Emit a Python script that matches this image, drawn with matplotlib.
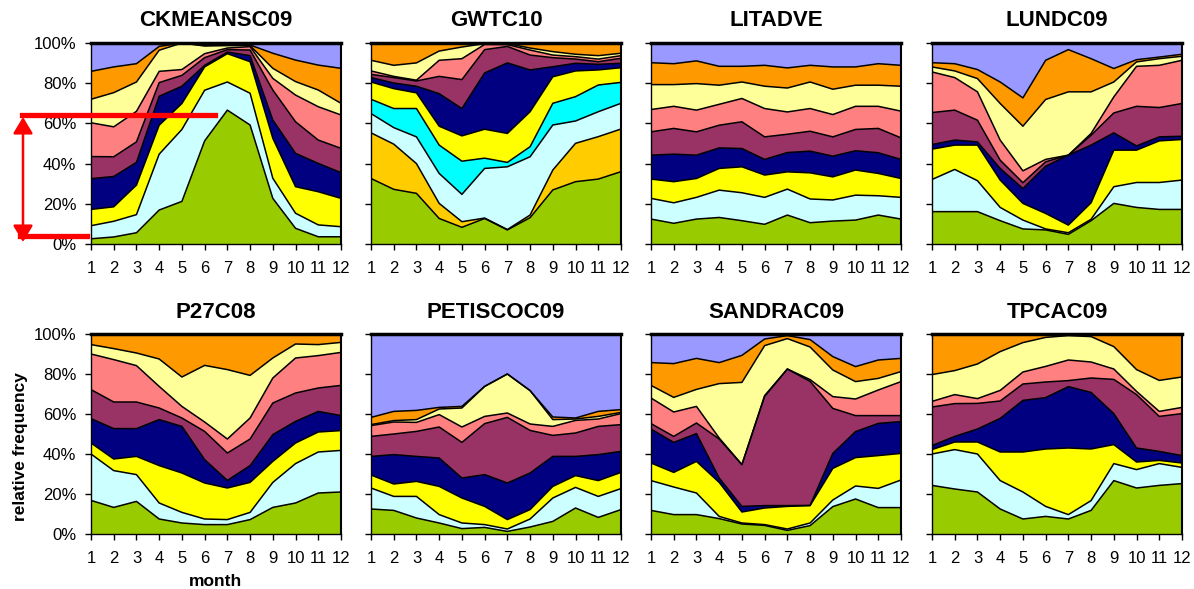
import numpy as np
import matplotlib
matplotlib.use("Agg")
import matplotlib.pyplot as plt
from matplotlib.lines import Line2D
from matplotlib.patches import FancyArrowPatch

plt.rcParams['font.family'] = ['Liberation Sans', 'DejaVu Sans']

W, H = 1194, 589
months = np.arange(1, 13)

# class colours, bottom of the stack to top
colours = {
    'green': '#99CC00', 'gold': '#FFCC00', 'lcyan': '#CCFFFF', 'cyan': '#00FFFF',
    'yellow': '#FFFF00', 'navy': '#000080', 'plum': '#993366', 'salmon': '#FF8080',
    'lyellow': '#FFFF99', 'orange': '#FF9900', 'lavender': '#9999FF',
}
std_classes = ['green', 'lcyan', 'yellow', 'navy', 'plum', 'salmon', 'lyellow', 'orange', 'lavender']

# cumulative relative frequency (%) at the top of each class, per month
ckmeansc09 = [
    [2.6, 3.5, 5.6, 16.9, 21.2, 51.3, 66.6, 59.2, 22.7, 7.8, 3.6, 3.6],
    [9.1, 11.3, 14.6, 44.7, 57.0, 76.5, 80.6, 75.0, 32.7, 15.3, 9.5, 8.6],
    [17.2, 18.5, 29.3, 59.1, 69.9, 88.1, 94.7, 90.7, 52.6, 28.5, 26.0, 22.7],
    [32.5, 33.6, 40.6, 73.5, 78.5, 88.9, 95.5, 93.7, 61.7, 45.1, 40.1, 35.5],
    [43.5, 43.4, 50.8, 80.3, 83.9, 92.7, 96.7, 96.5, 76.6, 60.8, 51.7, 47.6],
    [60.3, 58.3, 66.0, 85.9, 86.8, 94.7, 97.5, 98.2, 82.4, 74.1, 68.3, 64.2],
    [72.0, 75.3, 80.6, 96.4, 100.0, 98.5, 98.7, 98.7, 87.4, 80.8, 76.6, 70.0],
    [85.9, 88.1, 89.7, 98.3, 100.0, 98.8, 99.2, 99.0, 94.9, 91.5, 89.0, 87.4],
]
gwtc10 = [
    [32.6, 27.2, 25.2, 12.7, 8.3, 12.7, 7.0, 13.1, 26.9, 31.0, 32.3, 36.0],
    [55.3, 49.7, 40.0, 20.2, 11.1, 12.9, 7.2, 14.4, 36.8, 50.1, 53.4, 57.2],
    [64.9, 57.9, 53.3, 35.1, 24.7, 37.6, 38.4, 43.4, 59.2, 61.2, 65.8, 70.0],
    [72.0, 67.4, 67.4, 49.2, 41.2, 42.7, 40.6, 48.4, 70.0, 73.3, 79.1, 80.4],
    [80.6, 77.3, 75.2, 58.6, 53.8, 57.1, 55.0, 65.8, 83.2, 86.1, 86.6, 87.7],
    [82.8, 80.1, 78.5, 74.8, 67.4, 85.1, 90.1, 86.6, 88.2, 89.9, 89.4, 89.9],
    [84.4, 82.8, 81.1, 83.4, 81.8, 96.7, 98.3, 94.0, 92.7, 92.0, 90.7, 92.4],
    [86.1, 83.4, 81.5, 91.4, 92.2, 99.3, 99.2, 96.5, 94.0, 93.2, 92.0, 93.7],
    [91.4, 88.9, 90.1, 96.0, 98.0, 99.7, 99.7, 97.5, 95.7, 94.4, 93.7, 94.9],
]
litadve = [
    [12.4, 10.3, 12.4, 13.2, 11.6, 9.8, 14.4, 10.6, 11.4, 11.9, 14.4, 12.4],
    [22.7, 20.5, 23.2, 26.8, 25.5, 23.2, 27.3, 22.4, 21.9, 24.3, 24.0, 23.2],
    [32.3, 31.0, 32.6, 37.6, 38.4, 34.3, 35.9, 35.4, 33.4, 36.8, 35.1, 32.6],
    [44.2, 44.7, 44.2, 47.8, 47.5, 42.1, 45.5, 46.2, 43.7, 46.4, 45.4, 42.1],
    [55.8, 57.5, 55.8, 59.1, 60.8, 53.3, 54.6, 56.1, 53.3, 57.0, 57.5, 52.8],
    [66.9, 68.5, 66.6, 69.5, 72.4, 67.4, 65.7, 67.4, 64.4, 68.5, 68.5, 66.1],
    [79.3, 79.3, 79.8, 79.0, 80.6, 78.5, 77.6, 80.6, 77.0, 79.0, 79.0, 78.5],
    [90.2, 89.7, 91.1, 88.4, 88.4, 88.9, 87.6, 88.9, 88.1, 88.1, 89.7, 88.9],
]
lundc09 = [
    [16.1, 16.1, 16.1, 11.6, 7.5, 7.0, 4.8, 11.6, 20.2, 18.2, 17.2, 17.2],
    [32.1, 37.1, 31.5, 18.2, 11.9, 7.5, 5.6, 12.3, 28.5, 30.6, 30.6, 31.8],
    [47.2, 49.2, 49.2, 31.8, 20.2, 15.2, 9.4, 20.5, 46.7, 46.7, 51.3, 52.0],
    [49.5, 51.7, 50.8, 37.6, 27.6, 38.7, 44.2, 49.2, 55.3, 48.8, 53.3, 53.6],
    [65.4, 66.6, 61.6, 41.7, 30.5, 40.9, 44.2, 54.1, 65.2, 68.5, 67.9, 69.9],
    [85.6, 82.8, 75.7, 51.7, 36.4, 42.1, 44.2, 55.0, 73.2, 88.4, 88.9, 91.4],
    [88.1, 86.1, 82.3, 69.9, 58.6, 71.9, 75.7, 75.7, 80.6, 90.6, 92.2, 93.4],
    [90.2, 89.7, 86.8, 80.6, 72.7, 91.4, 96.7, 92.2, 87.3, 91.7, 93.0, 94.4],
]
p27c08 = [
    [16.8, 13.3, 16.3, 7.5, 5.5, 4.7, 4.7, 7.2, 13.3, 15.5, 20.5, 21.0],
    [40.0, 31.7, 29.7, 15.5, 10.8, 7.5, 7.2, 10.8, 25.8, 35.2, 41.0, 41.8],
    [45.5, 37.5, 38.8, 34.2, 30.5, 25.5, 23.0, 25.8, 36.3, 45.5, 51.0, 51.7],
    [57.7, 52.7, 52.7, 57.2, 53.8, 37.2, 26.8, 34.2, 49.7, 56.3, 61.3, 59.2],
    [72.2, 66.0, 66.0, 63.0, 58.0, 51.3, 40.5, 47.5, 65.5, 70.5, 73.0, 74.3],
    [90.0, 87.2, 84.2, 73.8, 63.8, 56.0, 47.5, 58.0, 78.0, 88.0, 89.2, 90.8],
    [94.7, 92.7, 90.5, 87.5, 78.5, 84.3, 82.2, 79.3, 88.0, 95.0, 94.7, 95.8],
]
petiscoc09 = [
    [12.5, 11.8, 8.0, 5.5, 2.7, 3.3, 1.3, 3.5, 6.3, 13.0, 8.3, 12.2],
    [23.0, 18.8, 18.8, 9.7, 5.5, 4.7, 2.5, 7.5, 18.0, 23.3, 18.8, 22.7],
    [29.5, 25.0, 26.3, 23.8, 18.0, 13.8, 7.2, 12.2, 23.8, 29.2, 26.7, 30.8],
    [38.8, 39.7, 38.8, 38.0, 28.0, 29.7, 25.5, 30.5, 38.8, 38.8, 39.7, 41.3],
    [48.8, 50.0, 51.3, 53.5, 45.8, 55.2, 58.3, 51.8, 49.3, 50.5, 53.8, 54.7],
    [54.2, 56.0, 55.8, 59.7, 53.5, 58.8, 60.5, 55.0, 53.8, 56.8, 57.5, 60.2],
    [54.7, 56.7, 57.2, 62.5, 63.0, 73.8, 80.0, 71.7, 57.2, 57.5, 58.8, 60.8],
    [58.3, 61.3, 61.8, 63.3, 63.8, 73.8, 80.0, 71.7, 58.5, 58.0, 61.3, 62.2],
]
sandrac09 = [
    [11.8, 9.7, 9.7, 7.7, 5.0, 4.3, 1.8, 4.2, 13.7, 17.5, 13.2, 13.2],
    [26.7, 23.5, 20.5, 8.8, 5.5, 4.7, 2.5, 5.5, 17.0, 24.0, 22.8, 27.0],
    [35.5, 30.8, 36.3, 25.8, 11.0, 13.0, 13.8, 14.2, 32.8, 38.2, 39.2, 40.3],
    [52.5, 45.8, 50.2, 28.0, 13.8, 14.2, 14.2, 14.3, 40.3, 51.2, 55.3, 56.2],
    [55.2, 48.8, 55.5, 47.5, 34.7, 68.8, 82.5, 76.3, 62.8, 59.2, 59.2, 59.2],
    [68.0, 61.0, 63.8, 48.0, 34.7, 69.2, 82.5, 77.2, 68.7, 67.5, 72.0, 76.2],
    [74.3, 68.3, 72.3, 75.2, 75.8, 94.2, 97.7, 93.5, 82.0, 76.2, 77.8, 81.2],
    [85.7, 85.2, 87.8, 85.7, 89.3, 97.5, 99.2, 97.2, 88.7, 83.7, 87.0, 87.8],
]
tpcac09 = [
    [24.3, 22.5, 21.0, 12.5, 7.5, 8.8, 7.5, 11.8, 26.7, 23.0, 24.3, 25.2],
    [40.0, 42.2, 40.0, 26.7, 21.0, 13.8, 9.7, 16.7, 35.2, 32.2, 35.2, 33.3],
    [42.2, 46.0, 46.0, 41.0, 41.0, 42.5, 43.0, 42.5, 44.7, 36.0, 36.8, 35.5],
    [44.2, 48.8, 52.5, 57.8, 66.8, 68.2, 73.7, 70.8, 60.2, 43.0, 41.3, 39.2],
    [63.5, 65.2, 65.3, 66.5, 75.0, 76.0, 76.7, 78.0, 77.3, 69.7, 58.8, 60.2],
    [66.3, 69.7, 67.7, 71.8, 81.0, 83.8, 87.0, 86.0, 82.5, 71.3, 61.3, 63.3],
    [79.7, 81.7, 85.0, 91.2, 95.7, 98.3, 99.2, 98.7, 93.7, 82.2, 76.8, 78.5],
]

panels = [
    ('CKMEANSC09', ckmeansc09, std_classes),
    ('GWTC10', gwtc10, ['green', 'gold', 'lcyan', 'cyan', 'yellow', 'navy', 'plum',
                        'salmon', 'lyellow', 'orange']),
    ('LITADVE', litadve, std_classes),
    ('LUNDC09', lundc09, std_classes),
    ('P27C08', p27c08, std_classes[:-1]),
    ('PETISCOC09', petiscoc09, std_classes),
    ('SANDRAC09', sandrac09, std_classes),
    ('TPCAC09', tpcac09, std_classes[:-1]),
]

fig = plt.figure(figsize=(W / 100, H / 100), dpi=100)

lefts = [91, 371, 651, 932]
rows = [(43, 244), (334, 534)]

for i, (name, tops, classes) in enumerate(panels):
    r, c = divmod(i, 4)
    top_px, bot_px = rows[r]
    x0 = lefts[c]
    ax = fig.add_axes([x0 / W, 1 - bot_px / H, 250 / W, (bot_px - top_px) / H])

    bounds = [np.zeros(12)] + [np.array(t) for t in tops] + [np.full(12, 100.0)]
    for k, cls in enumerate(classes):
        ax.fill_between(months, bounds[k], bounds[k + 1], facecolor=colours[cls],
                        edgecolor='none', zorder=1)
    for t in tops:
        ax.plot(months, t, color='black', lw=1.1, zorder=2)

    ax.set_xlim(1, 12)
    ax.set_ylim(0, 100)
    ax.set_xticks(months)
    ax.set_yticks(range(0, 101, 20))
    ax.tick_params(axis='both', direction='out', length=4.5, width=1, labelsize=12)
    ax.tick_params(axis='x', pad=8)
    ax.tick_params(axis='y', pad=6)
    if c == 0:
        ax.set_yticklabels([f'{v}%' for v in range(0, 101, 20)])
    else:
        ax.set_yticklabels([])
    for side in ['left', 'bottom']:
        ax.spines[side].set_linewidth(1)
    ax.spines['top'].set_linewidth(2.5)
    ax.spines['right'].set_linewidth(1.5)

    fig.text((x0 + 125) / W, 1 - (top_px - 22) / H, name, ha='center', va='center',
             fontsize=16, fontweight='bold')

fig.text(21 / W, 1 - 447 / H, 'relative frequency', rotation=90, ha='center',
         va='center', fontsize=12.5, fontweight='bold')
fig.text(216 / W, 1 - 582 / H, 'month', ha='center', va='center',
         fontsize=12.5, fontweight='bold')

# red range marker on the first panel
def fx(px):
    return px / W

def fy(py):
    return 1 - py / H

fig.add_artist(Line2D([fx(22), fx(215)], [fy(115), fy(115)], color='red', lw=3.8,
                      transform=fig.transFigure, zorder=10))
fig.add_artist(Line2D([fx(20), fx(87)], [fy(236), fy(236)], color='red', lw=3.8,
                      transform=fig.transFigure, zorder=10))
fig.add_artist(FancyArrowPatch((fx(23), fy(117)), (fx(23), fy(242)),
                               arrowstyle='<|-|>,head_length=10,head_width=6',
                               mutation_scale=1, color='red', lw=1.8, shrinkA=0, shrinkB=0,
                               transform=fig.transFigure, zorder=10))

fig.savefig('out.png', dpi=100)
